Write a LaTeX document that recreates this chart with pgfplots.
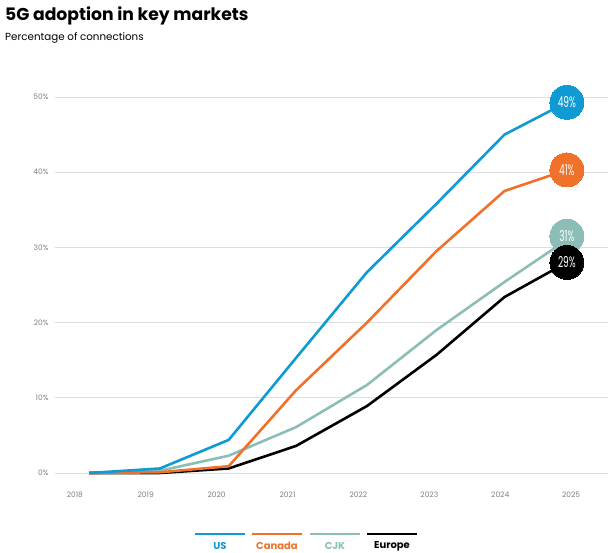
\documentclass[border=0pt]{standalone}
\usepackage{pgfplots}
\pgfplotsset{compat=1.18}
\usepackage{fontspec}
\setmainfont{Poppins}
\definecolor{cUS}{HTML}{0E9AD2}
\definecolor{cCA}{HTML}{F0712A}
\definecolor{cCJK}{HTML}{8DBDB7}
\definecolor{cEU}{HTML}{000000}
\definecolor{tick}{HTML}{7F7F7F}
\begin{document}
\begin{tikzpicture}[x=1pt,y=1pt]
\path[use as bounding box] (-55,-80) rectangle (559,473);
\begin{axis}[
  at={(0,0)}, anchor=south west,
  scale only axis, width=553pt, height=376pt,
  xmin=2017.72, xmax=2025.52, ymin=0, ymax=50,
  axis line style={draw=none}, clip=false,
  ymajorgrids, grid style={draw=gray!25, line width=0.9pt},
  ytick={0,10,20,30,40,50},
  yticklabels={0\%,10\%,20\%,30\%,40\%,50\%},
  xtick={2018,2019,2020,2021,2022,2023,2024,2025},
  xticklabels={2018,2019,2020,2021,2022,2023,2024,2025},
  x tick label style={yshift=-15pt},
  y tick label style={xshift=-3pt},
  tick label style={font=\fontsize{7.5}{8}\selectfont, text=tick},
  /pgf/number format/assume math mode=true,
  major tick length=0pt, tick style={draw=none},
  every axis plot/.append style={line width=2.6pt, line join=round, mark=none},
]
\addplot[cCJK] coordinates {(2018.2,0) (2019.2,0.3) (2020.17,2.3) (2021.12,6.1) (2022.12,11.7) (2023.1,19.0) (2024.06,25.4) (2024.94,31.0)};
\addplot[cEU] coordinates {(2018.2,0) (2019.2,0) (2020.17,0.6) (2021.12,3.6) (2022.12,8.9) (2023.1,15.7) (2024.06,23.4) (2024.94,28.0)};
\addplot[cCA] coordinates {(2018.2,0) (2019.2,0.1) (2020.17,0.9) (2021.12,11.0) (2022.12,20.0) (2023.1,29.5) (2024.06,37.5) (2024.94,40.3)};
\addplot[cUS] coordinates {(2018.2,0) (2019.2,0.6) (2020.17,4.4) (2021.12,15.3) (2022.12,26.7) (2023.1,35.8) (2024.06,45.0) (2024.94,49.3)};
\pgfplotsset{bub/.style={only marks, mark=*, mark size=17pt, line width=0pt,
   point meta=explicit symbolic, nodes near coords, nodes near coords align=center,
   every node near coord/.append style={text=white, font=\fontsize{15}{15}\selectfont, xscale=0.6, anchor=center}}}
\addplot[bub, cUS] coordinates {(2024.94,49.3) [49\%]};
\addplot[bub, cCA] coordinates {(2024.94,40.3) [41\%]};
\addplot[bub, cCJK] coordinates {(2024.94,31.5) [31\%]};
\addplot[bub, cEU] coordinates {(2024.94,28.0) [29\%]};
\end{axis}
\node[anchor=base west, font=\bfseries\fontsize{17.2}{19}\selectfont, inner sep=0] at (-50,452) {5G adoption in key markets};
\node[anchor=base west, font=\fontsize{10.3}{12}\selectfont, inner sep=0] at (-50,432) {Percentage of connections};
\foreach \c/\xa in {cUS/140, cCA/197, cCJK/255, cEU/312} {
  \draw[\c, line width=2.6pt] (\xa,-61) -- (\xa+50,-61);
}
\node[font=\bfseries\fontsize{10}{11}\selectfont, text=cUS] at (165,-73) {US};
\node[font=\bfseries\fontsize{10}{11}\selectfont, text=cCA] at (222,-73) {Canada};
\node[font=\bfseries\fontsize{10}{11}\selectfont, text=cCJK] at (280,-73) {CJK};
\node[font=\bfseries\fontsize{10}{11}\selectfont, text=cEU] at (337,-73) {Europe};
\end{tikzpicture}
\end{document}
